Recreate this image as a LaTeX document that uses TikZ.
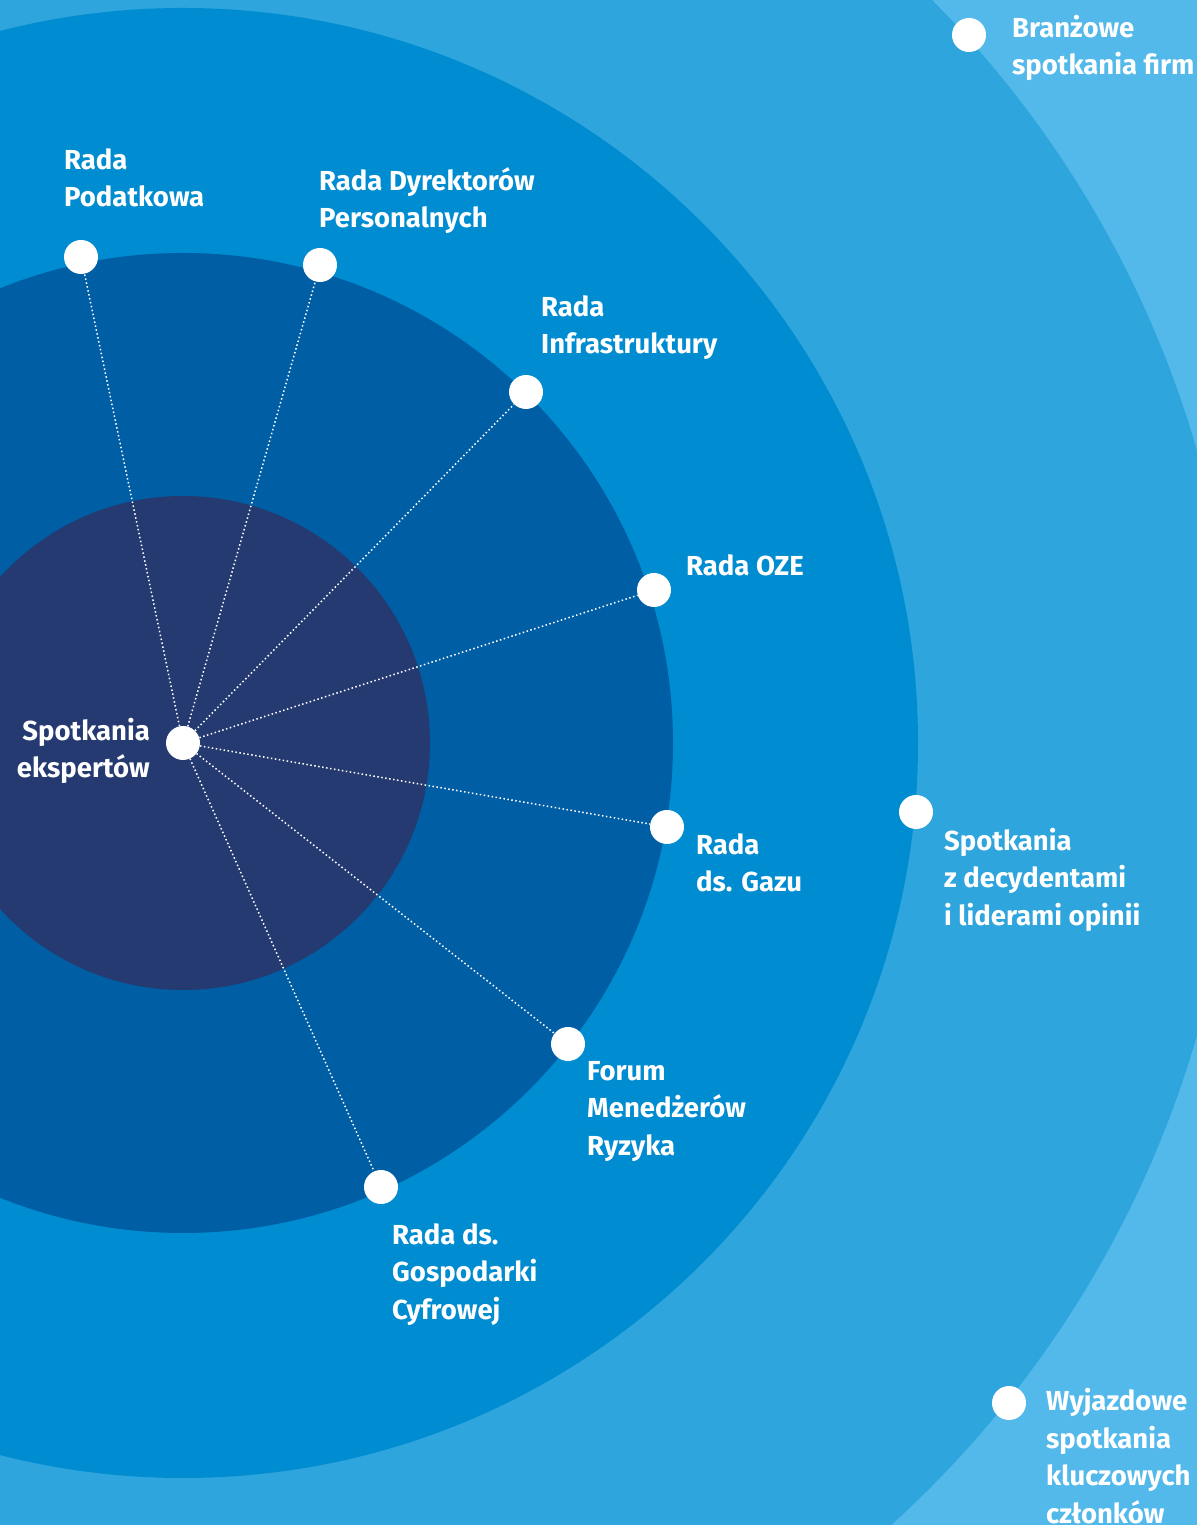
\documentclass[tikz,border=0pt]{standalone}
\usepackage{fontspec}
\setmainfont{Fira Sans}
\definecolor{ringA}{HTML}{253A70}
\definecolor{ringB}{HTML}{005EA4}
\definecolor{ringC}{HTML}{008CD1}
\definecolor{ringD}{HTML}{2EA5DD}
\definecolor{ringE}{HTML}{52B9EA}
\tikzset{
  dot/.style={circle,fill=white,draw=none,inner sep=0pt,minimum size=34bp},
  lbl/.style={anchor=north west,align=left,inner sep=0pt,text=white,
    font=\fontsize{27.5bp}{37.5bp}\selectfont\bfseries},
  link/.style={white,line width=1.5bp,dash pattern=on 1.5bp off 2.5bp},
}
\begin{document}
\begin{tikzpicture}[line join=bevel]
%% rings
\fill [ringE] (0bp,0bp) rectangle (1197bp,1525bp);
\useasboundingbox (0bp,0bp) rectangle (1197bp,1525bp);
\clip (0bp,0bp) rectangle (1197bp,1525bp);
\fill [ringD] (183bp,782bp) circle (1055bp);
\fill [ringC] (183bp,782bp) circle (735bp);
\fill [ringB] (183bp,782bp) circle (490bp);
\fill [ringA] (183bp,782bp) circle (247bp);
%%
\node (eksperci) at (183bp,782bp) [dot] {};
  \node (podatkowa) at (81bp,1268bp) [dot] {};
  \node (dyrektorzy) at (320bp,1260bp) [dot] {};
  \node (infrastruktura) at (526bp,1133bp) [dot] {};
  \node (oze) at (654bp,935bp) [dot] {};
  \node (gaz) at (667bp,698bp) [dot] {};
  \node (ryzyko) at (568bp,481bp) [dot] {};
  \node (cyfrowa) at (381bp,338bp) [dot] {};
  \node (decydenci) at (916bp,713bp) [dot] {};
  \node (branzowe) at (969bp,1490bp) [dot] {};
  \node (wyjazdowe) at (1009bp,122bp) [dot] {};
%%
\node (eksperci-t) at (150bp,807bp) [lbl,anchor=north east,align=right] {Spotkania\\ekspertów};
  \node (podatkowa-t) at (64bp,1377bp) [lbl] {Rada\\Podatkowa};
  \node (dyrektorzy-t) at (319bp,1358bp) [lbl] {Rada Dyrektorów\\Personalnych};
  \node (infrastruktura-t) at (541bp,1230bp) [lbl] {Rada\\Infrastruktury};
  \node (oze-t) at (686bp,971bp) [lbl] {Rada OZE};
  \node (gaz-t) at (696bp,692bp) [lbl] {Rada\\ds. Gazu};
  \node (ryzyko-t) at (587bp,464bp) [lbl] {Forum\\Menedżerów\\Ryzyka};
  \node (cyfrowa-t) at (392bp,302bp) [lbl] {Rada ds.\\Gospodarki\\Cyfrowej};
  \node (decydenci-t) at (944bp,697bp) [lbl] {Spotkania\\z decydentami\\i liderami opinii};
  \node (branzowe-t) at (1012bp,1510bp) [lbl] {Branżowe\\spotkania firm};
  \node (wyjazdowe-t) at (1046bp,137bp) [lbl] {Wyjazdowe\\spotkania\\kluczowych\\członków};
%%
\draw [link] (eksperci) -- (podatkowa);
  \draw [link] (eksperci) -- (dyrektorzy);
  \draw [link] (eksperci) -- (infrastruktura);
  \draw [link] (eksperci) -- (oze);
  \draw [link] (eksperci) -- (gaz);
  \draw [link] (eksperci) -- (ryzyko);
  \draw [link] (eksperci) -- (cyfrowa);
%
\end{tikzpicture}
\end{document}
